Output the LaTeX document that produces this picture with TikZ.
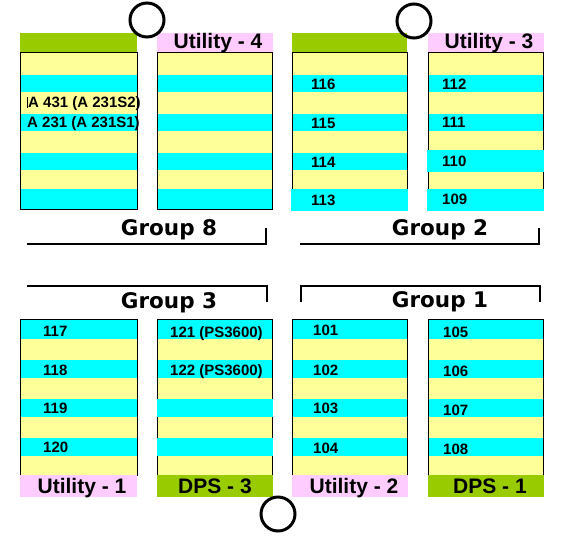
\documentclass[tikz,border=0pt]{standalone}
\usepackage{fontspec}
\setmainfont{Liberation Sans}
\newfontfamily\grpfont{DejaVu Sans}
\definecolor{yel}{HTML}{FFFF99}
\definecolor{cy}{HTML}{00FFFF}
\definecolor{grn}{HTML}{99CC00}
\definecolor{pnk}{HTML}{FFCCFF}
\begin{document}
\begin{tikzpicture}[x=1pt,y=-1pt,
  boxline/.style={draw=black, line width=0.8pt},
  num/.style={anchor=west, inner sep=0pt, font=\bfseries\fontsize{15}{15}\selectfont, text height=10.7pt, text depth=0pt},
  barlabel/.style={anchor=center, inner sep=0pt, font=\bfseries\fontsize{21}{21}\selectfont, text height=15pt, text depth=0pt},
  grplabel/.style={anchor=center, inner sep=0pt, font=\grpfont\bfseries\fontsize{21.5}{21.5}\selectfont, text height=15.7pt, text depth=0pt},
  bracket/.style={line width=1.6pt},
  hole/.style={draw=black, line width=3pt}]
\useasboundingbox (0,0) rectangle (572,546);
\fill[white] (0,0) rectangle (572,546);
% top headers
\fill[grn] (20,33) rectangle (137,52);
\fill[pnk] (157,33) rectangle (273,52);
\fill[grn] (292,33) rectangle (407,52);
\fill[pnk] (428,33) rectangle (544,52);
% top boxes
\foreach \xa/\xb in {20/137,157/272,292/407,428/543} {
  \fill[yel] (\xa,52) rectangle (\xb,209);
  \foreach \ya/\yb in {75/92,114/131,153/170,189/209}
    \fill[cy] (\xa,\ya) rectangle (\xb,\yb);
  \draw[boxline] (\xa,52) rectangle (\xb,209);
}
\fill[cy] (291,189) rectangle (408,211);
\fill[cy] (427,150) rectangle (544,172);
\fill[cy] (427,189) rectangle (544,211);
% bottom boxes
\foreach \xa/\xb in {20/137,157/272,292/407,428/543} {
  \fill[yel] (\xa,319) rectangle (\xb,475);
  \foreach \ya/\yb in {319/339,360/378,399/417,438/456}
    \fill[cy] (\xa,\ya) rectangle (\xb,\yb);
  \draw[boxline] (\xa,319) rectangle (\xb,475);
}
\fill[cy] (157,399) rectangle (273,417);
\fill[cy] (157,438) rectangle (273,456);
% bottom bars
\fill[pnk] (20,475) rectangle (137,497);
\fill[grn] (157,475) rectangle (273,497);
\fill[pnk] (292,475) rectangle (408,497);
\fill[grn] (428,475) rectangle (544,497);
% bar labels
\node[barlabel] (u4) at (218,41) {Utility - 4};
\node[barlabel] (u3) at (489,41) {Utility - 3};
\node[barlabel] (u1) at (82,486) {Utility - 1};
\node[barlabel] (d3) at (215,486) {DPS - 3};
\node[barlabel] (u2) at (354,486) {Utility - 2};
\node[barlabel] (d1) at (490,486) {DPS - 1};
% group labels
\node[grplabel] (g8) at (169,227.5) {Group 8};
\node[grplabel] (g2) at (440,228) {Group 2};
\node[grplabel] (g3) at (169,301) {Group 3};
\node[grplabel] (g1) at (440,300) {Group 1};
% brackets
\draw[bracket] (27,244) -- (266,244) -- (266,228);
\draw[bracket] (300,244) -- (539,244) -- (539,228);
\draw[bracket] (27,286) -- (267,286) -- (267,302);
\draw[bracket] (301,302) -- (301,286) -- (540,286) -- (540,302);
% group 8 texts
\draw[line width=0.8pt] (27.5,97) -- (27.5,108);
\node[num] (a431) at (28,102) {A 431 (A 231S2)};
\node[num] (a231) at (27,122) {A 231 (A 231S1)};
% group 2 numbers
\node[num] (n116) at (311,84) {116};
\node[num] (n115) at (311,123) {115};
\node[num] (n114) at (311,162) {114};
\node[num] (n113) at (311,200) {113};
\node[num] (n112) at (442,84) {112};
\node[num] (n111) at (442,122) {111};
\node[num] (n110) at (442,161) {110};
\node[num] (n109) at (442,199) {109};
% group 3 numbers
\node[num] (n117) at (43,331) {117};
\node[num] (n118) at (43,370) {118};
\node[num] (n119) at (43,408) {119};
\node[num] (n120) at (43,447) {120};
\node[num] (n121) at (170,332) {121 (PS3600)};
\node[num] (n122) at (170,370) {122 (PS3600)};
% group 1 numbers
\node[num] (n101) at (313,330) {101};
\node[num] (n102) at (313,370) {102};
\node[num] (n103) at (313,408) {103};
\node[num] (n104) at (313,448) {104};
\node[num] (n105) at (443,332) {105};
\node[num] (n106) at (443,371) {106};
\node[num] (n107) at (443,410) {107};
\node[num] (n108) at (443,449) {108};
% circles
\draw[hole] (147,20) circle[radius=17pt];
\draw[hole] (414,21) circle[radius=17pt];
\draw[hole] (278,514) circle[radius=17pt];
\end{tikzpicture}
\end{document}
